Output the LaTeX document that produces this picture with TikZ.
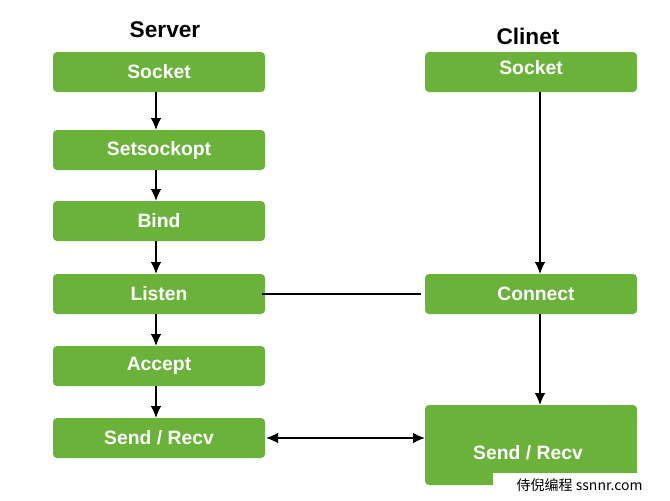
\documentclass[tikz,border=0pt]{standalone}
\usepackage{fontspec}
\setmainfont{Liberation Sans}
\newfontfamily\cjk{Noto Sans CJK SC}
\usetikzlibrary{arrows.meta}
\definecolor{grn}{HTML}{6AB23A}
\begin{document}
\begin{tikzpicture}[x=0.75pt,y=-0.75pt,
  box/.style={fill=grn,rounded corners=3pt,draw=none},
  lbl/.style={text=white,font=\bfseries\fontsize{14.5}{16}\selectfont},
  ttl/.style={font=\bfseries\fontsize{17}{19}\selectfont},
  arr/.style={-{Latex[length=9pt,width=8pt]},line width=1.1pt},
  ln/.style={line width=1pt}]
\useasboundingbox (0,0) rectangle (670,500);
\fill[white] (0,0) rectangle (670,500);
\node[ttl] (ts) at (165,30) {Server};
\node[ttl] (tc) at (528,36) {Clinet};
\foreach \n/\y/\t in {s1/72/Socket,s2/150/Setsockopt,s3/221/Bind,s4/294/Listen,s5/366/Accept,s6/438/{Send / Recv}}{
  \fill[box] (53,\y-20) rectangle (265,\y+20);
  \node[lbl] (\n) at (159,\y) {\t};
}
\coordinate (s1b) at (156,92); \coordinate (s2t) at (156,130);
\coordinate (s2b) at (156,170); \coordinate (s3t) at (156,201);
\coordinate (s3b) at (156,241); \coordinate (s4t) at (156,274);
\coordinate (s4b) at (156,314); \coordinate (s5t) at (156,346);
\coordinate (s5b) at (156,386); \coordinate (s6t) at (156,418);
\draw[arr] (s1b) -- (s2t); \draw[arr] (s2b) -- (s3t); \draw[arr] (s3b) -- (s4t);
\draw[arr] (s4b) -- (s5t); \draw[arr] (s5b) -- (s6t);
\fill[box] (425,52) rectangle (637,92);
\node[lbl] (c1) at (531,68) {Socket};
\fill[box] (425,274) rectangle (637,314);
\node[lbl] (c2) at (536,294) {Connect};
\fill[box] (425,405) rectangle (637,485);
\node[lbl] (c3) at (528,453) {Send / Recv};
\coordinate (c1b) at (540,92); \coordinate (c2t) at (540,274);
\coordinate (c2b) at (540,314); \coordinate (c3t) at (540,405);
\draw[arr] (c1b) -- (c2t); \draw[arr] (c2b) -- (c3t);
\coordinate (l1) at (262,294); \coordinate (l2) at (421,294);
\draw[ln] (l1) -- (l2);
\coordinate (r1) at (266,438); \coordinate (r2) at (425,438);
\draw[line width=1.1pt,{Latex[length=9pt,width=8pt]}-{Latex[length=9pt,width=8pt]}] (r1) -- (r2);
\fill[white] (493,473) rectangle (670,500);
\node[font=\cjk\fontsize{10.5}{13}\selectfont,anchor=west] (wm) at (512,485) {侍倪编程 ssnnr.com};
\end{tikzpicture}
\end{document}
